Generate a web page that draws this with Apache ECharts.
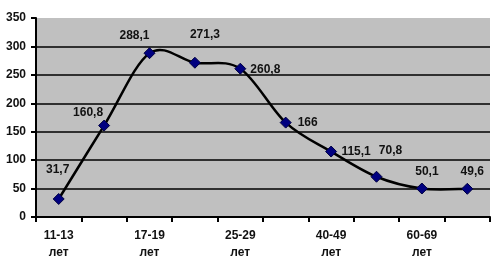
<!DOCTYPE html>
<html><head><meta charset="utf-8">
<script src="https://cdn.jsdelivr.net/npm/echarts@6/dist/echarts.min.js"></script>
<style>html,body{margin:0;padding:0;background:#fff}#c{width:500px;height:267px}</style>
</head><body><div id="c"></div>
<script>
var categories = ['11-13\nлет','14-16\nлет','17-19\nлет','20-24\nлет','25-29\nлет','30-39\nлет','40-49\nлет','50-59\nлет','60-69\nлет','70+\nлет'];
var values = [31.7, 160.8, 288.1, 271.3, 260.8, 166, 115.1, 70.8, 50.1, 49.6];
var yTicks = [0, 50, 100, 150, 200, 250, 300, 350];
var labelOffsets = [[-1,-29],[-16,-13],[-15,-18],[10,-28],[25,1],[22,0],[25,0],[14,-26],[5,-17],[5,-17]];
var chart = echarts.init(document.getElementById('c'));
var data = values.map(function(v,i){
  return {value: v, label: {offset: labelOffsets[i]}};
});
function renderCurve(params, api){
  if (params.dataIndex !== 0) return null;
  var pts = values.map(function(v,i){ return api.coord([i, v]); });
  var n = pts.length, children = [];
  for (var i = 0; i < n - 1; i++) {
    var p0 = pts[Math.max(i-1,0)], p1 = pts[i], p2 = pts[i+1], p3 = pts[Math.min(i+2,n-1)];
    children.push({type:'bezierCurve', shape:{
      x1:p1[0], y1:p1[1], x2:p2[0], y2:p2[1],
      cpx1:p1[0] + (p2[0]-p0[0])/6, cpy1:p1[1] + (p2[1]-p0[1])/6,
      cpx2:p2[0] - (p3[0]-p1[0])/6, cpy2:p2[1] - (p3[1]-p1[1])/6
    }, style:{fill:null, stroke:'#000', lineWidth:2.5}});
  }
  return {type:'group', children:children};
}
chart.setOption({
  animation:false,
  backgroundColor:'#fff',
  grid:{left:36,right:10,top:18,bottom:50,show:true,backgroundColor:'#c0c0c0',borderWidth:0},
  xAxis:{type:'category',data:categories,boundaryGap:true,
    axisLine:{lineStyle:{color:'#000',width:2}},
    axisTick:{show:true,length:5,lineStyle:{color:'#000',width:2},interval:0},
    axisLabel:{interval:1,color:'#111',fontFamily:'Liberation Sans, Arial',fontWeight:'bold',fontSize:12,lineHeight:17,margin:10},
    splitLine:{show:false}},
  yAxis:{type:'value',min:yTicks[0],max:yTicks[yTicks.length-1],interval:50,
    axisLine:{show:true,lineStyle:{color:'#000',width:2}},
    axisTick:{show:true,length:5,lineStyle:{color:'#000',width:2}},
    axisLabel:{color:'#111',fontFamily:'Liberation Sans, Arial',fontWeight:'bold',fontSize:12,margin:10},
    splitLine:{show:true,showMaxLine:false,lineStyle:{color:'#000',width:1.5}}},
  series:[
    {type:'custom',data:values.map(function(v,i){return [i,v];}),renderItem:renderCurve,z:2,silent:true},
    {type:'line',data:data,z:3,
    lineStyle:{width:0,opacity:0},
    symbol:'diamond',symbolSize:11,
    itemStyle:{color:'#000080',borderColor:'#000040',borderWidth:1},
    label:{show:true,position:'inside',color:'#111',fontFamily:'Liberation Sans, Arial',fontWeight:'bold',fontSize:12,
      formatter:function(p){return String(p.value).replace('.',',');}}
  }]
});
</script></body></html>
